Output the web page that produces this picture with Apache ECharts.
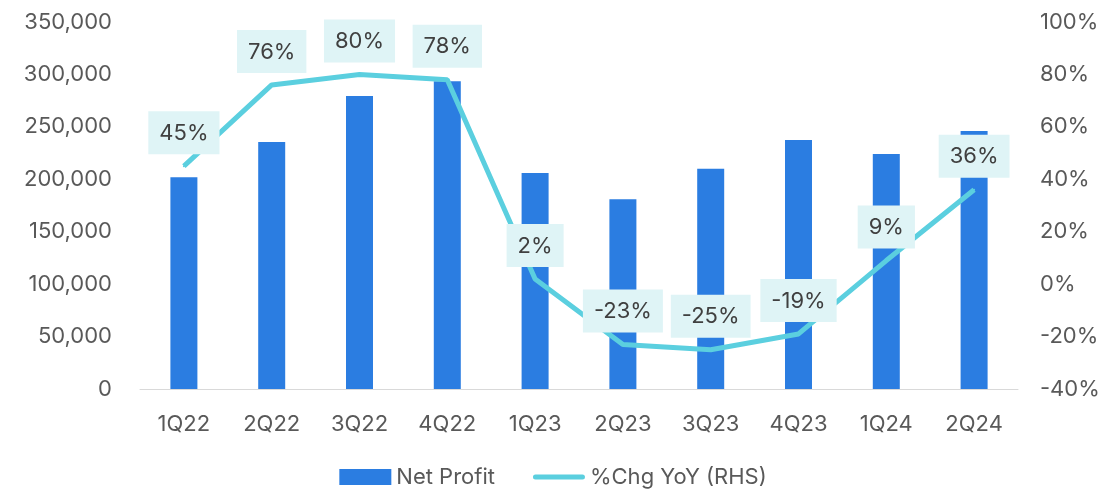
<!DOCTYPE html>
<html><head><meta charset="utf-8">
<script src="https://cdn.jsdelivr.net/npm/echarts@6/dist/echarts.min.js"></script>
<style>html,body{margin:0;padding:0;background:#fff}#c{width:1106px;height:495px}</style>
</head><body><div id="c"></div>
<script>
const categories = ['1Q22','2Q22','3Q22','4Q22','1Q23','2Q23','3Q23','4Q23','1Q24','2Q24'];
const netProfit = [202000, 235500, 279500, 293500, 206000, 181000, 210000, 237500, 224000, 246000];
const chgYoY = [45, 76, 80, 78, 2, -23, -25, -19, 9, 36];

const font = 'Inter';
const fs = 22;
const chart = echarts.init(document.getElementById('c'));
chart.setOption({
  animation: false,
  textStyle: {fontFamily: font},
  grid: {left: 140, right: 88, top: 22, bottom: 106},
  legend: {
    bottom: 2, left: 'center', itemGap: 38, itemWidth: 52, itemHeight: 16,
    textStyle: {fontSize: fs, color: '#595959', fontFamily: font},
    data: [{name: 'Net Profit', icon: 'rect'},
           {name: '%Chg YoY (RHS)', icon: 'path://M2.5,0 H49.5 A2.5,2.5 0 0 1 49.5,5 H2.5 A2.5,2.5 0 0 1 2.5,0 Z'}]
  },
  xAxis: {
    type: 'category', data: categories,
    axisLine: {lineStyle: {color: '#d9d9d9', width: 1}},
    axisTick: {show: false},
    axisLabel: {fontSize: fs, color: '#595959', margin: 24, fontFamily: font}
  },
  yAxis: [
    {type: 'value', min: 0, max: 350000, interval: 50000,
     splitLine: {show: false}, axisLine: {show: false}, axisTick: {show: false},
     axisLabel: {fontSize: fs, color: '#595959', margin: 28, fontFamily: font,
       formatter: v => v.toLocaleString('en-US')}},
    {type: 'value', min: -40, max: 100, interval: 20,
     splitLine: {show: false}, axisLine: {show: false}, axisTick: {show: false},
     axisLabel: {fontSize: fs, color: '#595959', margin: 22, fontFamily: font,
       formatter: v => v + '%'}}
  ],
  series: [
    {name: 'Net Profit', type: 'bar', data: netProfit, barWidth: 27,
     itemStyle: {color: '#2b7de1'}},
    {name: '%Chg YoY (RHS)', type: 'line', yAxisIndex: 1, data: chgYoY,
     symbol: 'circle', symbolSize: 2, showSymbol: true, showAllSymbol: true,
     lineStyle: {color: '#5bcfdf', width: 5}, itemStyle: {color: '#5bcfdf'},
     label: {show: true, position: 'top', distance: 11, formatter: p => p.value + '%',
       fontSize: fs, color: '#404040', fontFamily: font,
       backgroundColor: '#dff4f6', padding: [11, 11, 10, 11]}}
  ]
});
</script></body></html>
